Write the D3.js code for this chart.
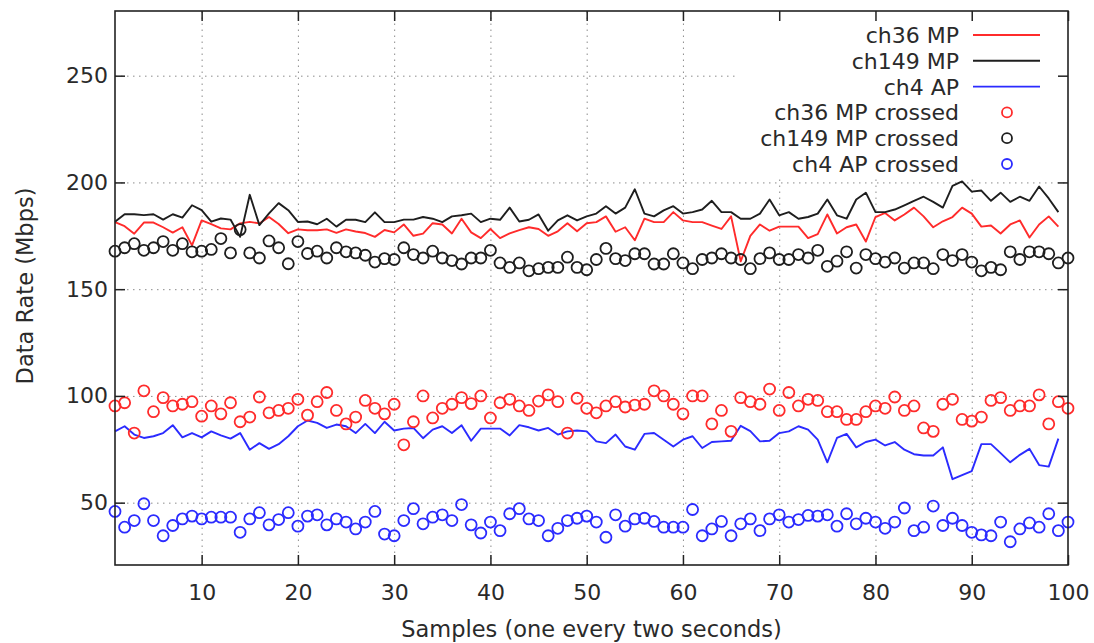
<!DOCTYPE html>
<html>
<head>
<meta charset="utf-8">
<script src="https://cdn.jsdelivr.net/npm/d3@7"></script>
<style>
  body { margin: 0; background: #fff; }
  text { font-family: "DejaVu Sans", sans-serif; fill: #2a2a2a; }
  .grid line { stroke: #8c8c8c; stroke-width: 1; stroke-dasharray: 1.5, 4.5; }
  .grid .domain { display: none; }
  .axis .domain { display: none; }
  .axis line { stroke: #222; stroke-width: 1.5; }
</style>
</head>
<body>
<div id="chart"></div>
<script>
var svgWidth = 1094;
var svgHeight = 643;

var margin = {
  top: 11,
  right: 26,
  bottom: 78,
  left: 115
};

var width = svgWidth - margin.left - margin.right;
var height = svgHeight - margin.top - margin.bottom;

// sample index (one every two seconds)
var samples = d3.range(1, 101);

// ch36 MP (line)
var ch36MP = [181.4, 179.5, 176, 181.2, 181.2, 179, 176.5, 179, 170.5, 182.2, 180.5, 178.5, 178, 180.8, 181.5, 180.8, 183.8, 180.5, 176.2, 178,
  177.6, 177.6, 178, 176.4, 178, 177, 176.3, 174.5, 177.7, 176.6, 180.3, 175, 176, 180.9, 180.3, 176.1, 183, 176.6, 173.9, 178.2,
  173.9, 176.1, 177.7, 179, 178.2, 175, 177.1, 180.9, 177.1, 180.9, 181.4, 184.1, 176.9, 179, 172.9, 183, 181.4, 181.4, 186.1, 182.2,
  181.4, 181.4, 179.8, 178.2, 184.1, 163, 175, 180.3, 177.4, 179.3, 179.3, 179.3, 173.9, 175.8, 185, 176.1, 179, 180.3, 172.3, 183.8,
  185.7, 182.2, 185, 188.2, 184.1, 179, 181.8, 183.8, 188.2, 185.4, 179.3, 179.8, 176.1, 180.3, 182.2, 174.2, 180.3, 184.1, 179.3];

// ch149 MP (line)
var ch149MP = [181.6, 185.1, 185.1, 184.7, 185.1, 182.6, 185.1, 183.5, 189.3, 187, 181.6, 183.1, 182.6, 174.5, 194.2, 180, 185.5, 190.3, 187, 181.5,
  181.7, 180.4, 183, 179.3, 182.5, 182.5, 181.4, 186, 181.4, 181.4, 182.6, 182.6, 183.8, 183, 181.4, 184.1, 184.6, 185.4, 181.4, 183,
  182.5, 188.2, 181.7, 182.5, 185, 177.4, 182.2, 184.6, 182.2, 184.1, 185.4, 188.9, 185.4, 188.2, 196.8, 185.4, 184.1, 186.9, 188.9, 185.4,
  186.1, 187.3, 191.4, 186.1, 186.1, 183, 183, 185.4, 192, 184.6, 186.1, 183, 183.8, 185.4, 192, 184.6, 183, 192, 195.2, 186.1,
  186.1, 187.3, 189.3, 191.4, 193.3, 190.9, 188.2, 198.4, 200.5, 195.7, 196.2, 191.4, 195.2, 190.9, 193.3, 191.4, 198.1, 192.5, 186.1];

// ch4 AP (line)
var ch4AP = [83.4, 85.8, 81.9, 80.3, 81.1, 82.6, 86.3, 80.6, 82.6, 80.6, 83.4, 81.5, 80, 82.6, 74.8, 77.9, 75.2, 77.4, 81.1, 85.8,
  88.5, 87.4, 85, 86.6, 85.8, 82.6, 86.9, 82.6, 87.9, 83.8, 84.7, 85, 80.2, 84.2, 85.8, 82.6, 86.3, 79, 84.7, 84.7,
  84.7, 81.5, 86.3, 85.3, 83.8, 85, 81.9, 83.4, 83.8, 83.4, 78.7, 77.9, 81.9, 76.3, 74.8, 82.2, 82.6, 79.5, 76.3, 79.5,
  81.1, 75.6, 78.4, 78.7, 79, 86, 83.5, 78.7, 79, 82.6, 83.4, 85.8, 84.2, 79.5, 68.9, 80.3, 82.2, 75.9, 78.4, 79.5,
  76.8, 78.4, 74.8, 72.7, 72.1, 72.1, 75.9, 61, 62.9, 64.8, 77.4, 77.4, 73.2, 68.9, 72.4, 75.2, 67.6, 66.9, 80];

// ch36 MP crossed (points)
var ch36MPCrossed = [95.3, 96.8, 82.6, 102.4, 92.6, 99.2, 95.3, 96.1, 97.3, 90.5, 95.3, 91.6, 96.8, 87.9, 90.1, 99.5, 92.1, 93.2, 94.2, 98.4,
  91, 97.3, 101.6, 93.2, 86.9, 90.1, 97.9, 94.2, 91.6, 96.1, 77.1, 87.9, 100, 89.7, 94.2, 96.1, 99.2, 96.4, 100, 89.7,
  96.8, 98.4, 95.3, 93.2, 97.6, 100.5, 97.3, 82.6, 98.9, 94.2, 92.1, 95.3, 97.3, 94.8, 95.7, 96.1, 102.4, 100, 96.1, 91.6,
  100, 100, 86.9, 93.2, 83.4, 99.2, 97.3, 96.1, 103.2, 93.2, 101.6, 95.3, 98.4, 97.9, 92.6, 92.6, 89, 89, 92.6, 95.3,
  94.2, 99.5, 93.2, 95.3, 85, 83.4, 96.1, 98.4, 89, 88.2, 90.1, 97.9, 99.2, 93.2, 95.3, 95.3, 100.5, 86.9, 97.3, 94.2];

// ch149 MP crossed (points)
var ch149MPCrossed = [167.8, 169.4, 171.3, 168.2, 169.4, 172.3, 168.2, 171.3, 167.5, 167.8, 168.6, 173.7, 167, 177.9, 167, 164.6, 172.6, 169.4, 161.9, 172.3,
  166.7, 167.8, 164.6, 169.4, 167.5, 167, 165.9, 162.7, 164.3, 163.9, 169.4, 166.2, 164.6, 167.8, 164.6, 163.4, 161.8, 164.6, 164.6, 168.2,
  162.3, 160.2, 162.3, 158.6, 159.6, 160.2, 160.2, 165, 160.2, 159.1, 163.9, 169.1, 164.3, 163.4, 166.6, 166.6, 161.8, 161.8, 166.6, 162.3,
  159.6, 163.9, 164.6, 166.6, 164.6, 163.9, 159.6, 164.3, 167, 163.9, 163.9, 166.2, 164.6, 168.2, 160.7, 163.1, 167.5, 159.9, 166.2, 164.3,
  162.7, 164.6, 159.9, 162.3, 162.3, 159.6, 166.2, 163.4, 166.2, 162.7, 158.6, 160.2, 159.1, 167.5, 163.9, 167.5, 167.5, 166.6, 162.3, 164.6];

// ch4 AP crossed (points)
var ch4APCrossed = [45.9, 38.5, 41.6, 49.5, 41.6, 34.5, 39.3, 42.4, 43.7, 42.4, 43.2, 43.2, 43.2, 36.1, 42.4, 45.3, 39.6, 42.1, 45.3, 39,
  43.7, 44.3, 39.6, 42.4, 40.9, 37.7, 40.9, 45.9, 35.3, 34.5, 41.6, 47.2, 40.1, 43.2, 44.3, 41.6, 49.1, 39.6, 35.8, 40.9,
  36.9, 44.8, 47.2, 42.4, 41.6, 34.5, 38, 41.6, 42.7, 43.7, 40.9, 33.8, 44.3, 39, 42.4, 42.7, 41.2, 38.5, 38.5, 38.5,
  46.8, 34.5, 37.7, 41.2, 34.5, 40.1, 42.4, 36.9, 42.4, 44.3, 40.9, 42.1, 44, 43.7, 44.3, 39, 44.8, 40.1, 42.7, 40.9,
  38, 40.9, 47.5, 36.9, 38.5, 48.4, 39.3, 42.7, 39.3, 36.1, 34.9, 34.5, 40.9, 31.7, 37.7, 40.5, 38.5, 44.8, 36.9, 40.9];

var xTicks = [10, 20, 30, 40, 50, 60, 70, 80, 90, 100];
var yTicks = [50, 100, 150, 200, 250];

var seriesNames = ["ch36 MP", "ch149 MP", "ch4 AP", "ch36 MP crossed", "ch149 MP crossed", "ch4 AP crossed"];
var seriesColors = ["#ff2b2b", "#1e1e1e", "#2b2bff", "#ff2b2b", "#1e1e1e", "#2b2bff"];

var svg = d3.select("#chart")
  .append("svg")
  .attr("width", svgWidth)
  .attr("height", svgHeight);

var chartGroup = svg.append("g")
  .attr("transform", `translate(${margin.left}, ${margin.top})`);

var xScale = d3.scaleLinear().domain([1, 100]).range([0, width]);
var yScale = d3.scaleLinear().domain([20.8, 280.3]).range([height, 0]);

// dotted grid
chartGroup.append("g")
  .attr("class", "grid")
  .attr("transform", `translate(0, ${height})`)
  .call(d3.axisBottom(xScale).tickValues(xTicks.slice(0, -1)).tickSize(-height).tickFormat(""));

chartGroup.append("g")
  .attr("class", "grid")
  .call(d3.axisLeft(yScale).tickValues(yTicks).tickSize(-width).tickFormat(""));

// lines
var lineSeries = [ch36MP, ch149MP, ch4AP];
lineSeries.forEach(function(values, k) {
  var line = d3.line()
    .x((d, i) => xScale(samples[i]))
    .y(d => yScale(d));
  chartGroup.append("path")
    .datum(values)
    .attr("d", line)
    .attr("fill", "none")
    .attr("stroke", seriesColors[k])
    .attr("stroke-width", 1.9)
    .attr("stroke-linejoin", "round");
});

// crossed points
var pointSeries = [ch36MPCrossed, ch149MPCrossed, ch4APCrossed];
pointSeries.forEach(function(values, k) {
  chartGroup.append("g")
    .selectAll("circle")
    .data(values)
    .enter()
    .append("circle")
    .attr("cx", (d, i) => xScale(samples[i]))
    .attr("cy", d => yScale(d))
    .attr("r", 5.5)
    .attr("fill", "none")
    .attr("stroke", seriesColors[k + 3])
    .attr("stroke-width", 1.8);
});

// opaque key
var key = chartGroup.append("g");
key.append("rect")
  .attr("x", 620)
  .attr("y", 0)
  .attr("width", width - 620)
  .attr("height", 167)
  .attr("fill", "#fff");

seriesNames.forEach(function(name, k) {
  var ry = 24 + k * 25.8;
  key.append("text")
    .attr("x", 844)
    .attr("y", ry)
    .attr("dy", "0.36em")
    .attr("text-anchor", "end")
    .style("font-size", "22px")
    .text(name);
  if (k < 3) {
    key.append("line")
      .attr("x1", 858).attr("x2", 925)
      .attr("y1", ry).attr("y2", ry)
      .attr("stroke", seriesColors[k])
      .attr("stroke-width", 1.9);
  } else {
    key.append("circle")
      .attr("cx", 892).attr("cy", ry)
      .attr("r", 5)
      .attr("fill", "none")
      .attr("stroke", seriesColors[k])
      .attr("stroke-width", 1.8);
  }
});

// axes with inward ticks, mirrored on top and right
var xAxis = chartGroup.append("g")
  .attr("class", "axis")
  .attr("transform", `translate(0, ${height})`)
  .call(d3.axisBottom(xScale).tickValues(xTicks).tickSizeInner(-10).tickSizeOuter(0).tickPadding(19));

var yAxis = chartGroup.append("g")
  .attr("class", "axis")
  .call(d3.axisLeft(yScale).tickValues(yTicks).tickSizeInner(-10).tickSizeOuter(0).tickPadding(7));

chartGroup.append("g")
  .attr("class", "axis")
  .call(d3.axisTop(xScale).tickValues(xTicks).tickSizeInner(-10).tickSizeOuter(0).tickFormat(""));

chartGroup.append("g")
  .attr("class", "axis")
  .attr("transform", `translate(${width}, 0)`)
  .call(d3.axisRight(yScale).tickValues(yTicks).tickSizeInner(-10).tickSizeOuter(0).tickFormat(""));

chartGroup.selectAll(".axis text")
  .style("font-size", "22px")
  .style("font-family", "DejaVu Sans, sans-serif")
  .attr("fill", "#2a2a2a");

// frame
chartGroup.append("rect")
  .attr("width", width)
  .attr("height", height)
  .attr("fill", "none")
  .attr("stroke", "#222")
  .attr("stroke-width", 1.6);

// axis titles
chartGroup.append("text")
  .attr("x", width / 2)
  .attr("y", 626)
  .attr("text-anchor", "middle")
  .style("font-size", "22.5px")
  .text("Samples (one every two seconds)");

chartGroup.append("text")
  .attr("transform", `translate(${25 - margin.left}, ${height / 2 - 2}) rotate(-90)`)
  .attr("dy", "0.36em")
  .attr("text-anchor", "middle")
  .style("font-size", "22.5px")
  .text("Data Rate (Mbps)");
</script>
</body>
</html>
